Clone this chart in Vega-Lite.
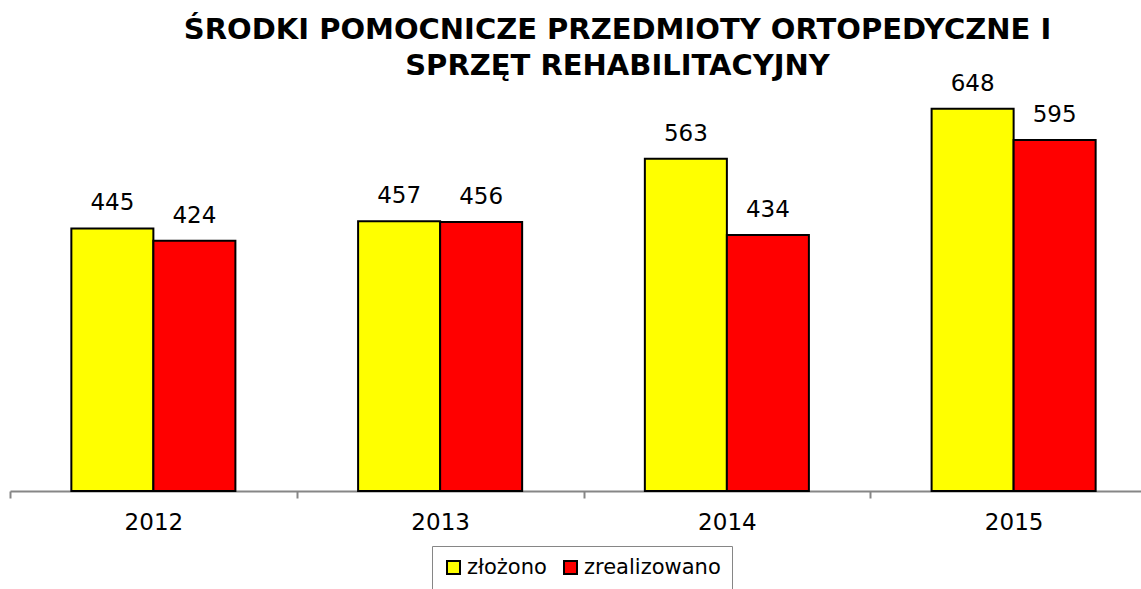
{
  "$schema": "https://vega.github.io/schema/vega-lite/v6.json",
  "autosize": {"type": "none"},
  "padding": {"left": 10, "top": 78, "right": 0, "bottom": 98},
  "width": 1131,
  "height": 413,
  "background": "white",
  "title": {
    "text": ["ŚRODKI POMOCNICZE PRZEDMIOTY ORTOPEDYCZNE I", "SPRZĘT REHABILITACYJNY"],
    "font": "DejaVu Sans",
    "fontSize": 29,
    "fontWeight": "bold",
    "color": "black",
    "anchor": "middle",
    "frame": "group",
    "dx": 42,
    "baseline": "bottom",
    "offset": -37,
    "lineHeight": 36
  },
  "data": {
    "values": [
      {"rok": "2012", "seria": "złożono", "wartosc": 445},
      {"rok": "2012", "seria": "zrealizowano", "wartosc": 424},
      {"rok": "2013", "seria": "złożono", "wartosc": 457},
      {"rok": "2013", "seria": "zrealizowano", "wartosc": 456},
      {"rok": "2014", "seria": "złożono", "wartosc": 563},
      {"rok": "2014", "seria": "zrealizowano", "wartosc": 434},
      {"rok": "2015", "seria": "złożono", "wartosc": 648},
      {"rok": "2015", "seria": "zrealizowano", "wartosc": 595}
    ]
  },
  "encoding": {
    "x": {
      "field": "rok",
      "type": "nominal",
      "scale": {"paddingInner": 0, "paddingOuter": 0, "range": [0, 1147]},
      "axis": {
        "title": null,
        "labelAngle": 0,
        "labelFont": "DejaVu Sans",
        "labelFontSize": 23,
        "labelColor": "black",
        "labelPadding": 13,
        "domainColor": "#868686",
        "domainWidth": 2,
        "tickColor": "#868686",
        "tickWidth": 2,
        "tickSize": 7,
        "tickBand": "extent"
      }
    },
    "xOffset": {
      "field": "seria",
      "type": "nominal",
      "scale": {"domain": ["złożono", "zrealizowano"], "paddingInner": 0, "paddingOuter": 0.748}
    },
    "y": {
      "field": "wartosc",
      "type": "quantitative",
      "scale": {"domain": [0, 700], "nice": false},
      "axis": null
    }
  },
  "layer": [
    {
      "mark": {"type": "bar", "stroke": "black", "strokeWidth": 2},
      "encoding": {
        "color": {
          "field": "seria",
          "type": "nominal",
          "scale": {"domain": ["złożono", "zrealizowano"], "range": ["#FFFF00", "#FF0000"]},
          "legend": {
            "title": null,
            "orient": "none",
            "direction": "horizontal",
            "legendX": 422,
            "legendY": 468,
            "padding": 11,
            "strokeColor": "#868686",
            "fillColor": "white",
            "symbolType": "square",
            "symbolSize": 169,
            "symbolStrokeColor": "black",
            "symbolStrokeWidth": 2,
            "symbolOpacity": 1,
            "labelFont": "DejaVu Sans",
            "labelFontSize": 21,
            "labelColor": "black",
            "labelOffset": 3,
            "columnPadding": 13
          }
        }
      }
    },
    {
      "mark": {"type": "text", "font": "DejaVu Sans", "fontSize": 23, "color": "black", "baseline": "alphabetic", "dy": -18},
      "encoding": {
        "text": {"field": "wartosc", "type": "quantitative"}
      }
    }
  ],
  "config": {"view": {"stroke": null}}
}
